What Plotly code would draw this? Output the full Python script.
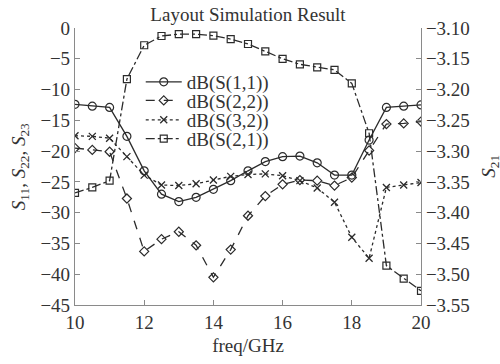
import plotly.graph_objects as go

freq = [10, 10.5, 11, 11.5, 12, 12.5, 13, 13.5, 14, 14.5, 15, 15.5, 16, 16.5, 17, 17.5, 18, 18.5, 19, 19.5, 20]

s11 = [-12.4, -12.7, -12.9, -17.6, -23.2, -27.0, -28.2, -27.5, -26.2, -24.8, -23.2,
       -21.7, -20.9, -20.8, -21.9, -23.9, -23.9, -18.2, -12.9, -12.7, -12.5]
s22 = [-19.5, -19.8, -20.1, -27.7, -36.3, -34.3, -33.1, -35.3, -40.5, -36.0, -30.5,
       -27.3, -25.4, -24.7, -24.8, -25.6, -24.3, -19.9, -15.6, -15.5, -15.2]
s32 = [-17.5, -17.6, -17.9, -20.9, -23.9, -25.5, -25.6, -25.3, -24.7, -24.1, -23.8,
       -23.7, -24.0, -24.8, -26.0, -28.3, -34.0, -37.4, -25.9, -25.5, -25.1]
s21 = [-3.368, -3.359, -3.348, -3.183, -3.128, -3.113, -3.110, -3.110, -3.1125, -3.118, -3.126,
       -3.138, -3.150, -3.159, -3.164, -3.168, -3.190, -3.271, -3.486, -3.507, -3.527]

names = ["dB(S(1,1))", "dB(S(2,2))", "dB(S(3,2))", "dB(S(2,1))"]

LINE = "#2b2b2b"
AX = "#8a8a8a"
TXT = "#333333"
FONT = "Liberation Serif"
FS = 19

fig = go.Figure()
fig.add_trace(go.Scatter(x=freq, y=s11, name=names[0], mode="lines+markers",
                         line=dict(color=LINE, width=1.3, dash="solid"),
                         marker=dict(symbol="circle-open", size=8, color=LINE, line=dict(width=1.2)),
                         legend="legend"))
fig.add_trace(go.Scatter(x=freq, y=s22, name=names[1], mode="lines+markers",
                         line=dict(color=LINE, width=1.3, dash="dash"),
                         marker=dict(symbol="diamond-open", size=7, color=LINE, line=dict(width=1.2)),
                         legend="legend2"))
fig.add_trace(go.Scatter(x=freq, y=s32, name=names[2], mode="lines+markers",
                         line=dict(color=LINE, width=1.3, dash="dot"),
                         marker=dict(symbol="x-thin-open", size=7, color=LINE, line=dict(width=1.3)),
                         legend="legend3"))
fig.add_trace(go.Scatter(x=freq, y=s21, name=names[3], mode="lines+markers", yaxis="y2",
                         line=dict(color=LINE, width=1.3, dash="dashdot"),
                         marker=dict(symbol="square-open", size=7, color=LINE, line=dict(width=1.2)),
                         legend="legend4"))

tickfont = dict(family=FONT, size=FS, color=TXT)
legfont = dict(family=FONT, size=FS, color=TXT)
leg_common = dict(x=0.19, xanchor="left", yanchor="middle", font=legfont,
                  bgcolor="rgba(0,0,0,0)", borderwidth=0, itemwidth=36)

fig.update_layout(
    width=500, height=364,
    margin=dict(l=75, r=79, t=28, b=59),
    paper_bgcolor="white", plot_bgcolor="white",
    showlegend=True,
    title=dict(text="Layout Simulation Result", x=0.496, xanchor="center",
               y=0.96, yanchor="middle", font=dict(family=FONT, size=FS, color=TXT)),
    xaxis=dict(range=[10, 20], dtick=2, tick0=10, ticks="inside", ticklen=5,
               tickcolor=AX, showline=True, linecolor=AX, linewidth=1.2,
               showgrid=False, zeroline=False, tickfont=tickfont,
               title=dict(text="freq/GHz", font=dict(family=FONT, size=FS, color=TXT), standoff=6)),
    yaxis=dict(range=[-45, 0], dtick=5, tick0=0, ticks="inside", ticklen=5,
               tickcolor=AX, showline=True, linecolor=AX, linewidth=1.2,
               showgrid=False, zeroline=False, tickfont=tickfont),
    yaxis2=dict(range=[-3.55, -3.10], dtick=0.05, tick0=-3.10, tickformat=".2f",
                overlaying="y", side="right", ticks="inside", ticklen=5,
                tickcolor=AX, showline=True, linecolor=AX, linewidth=1.2,
                showgrid=False, zeroline=False, tickfont=tickfont),
    legend=dict(y=0.805, **leg_common),
    legend2=dict(y=0.738, **leg_common),
    legend3=dict(y=0.668, **leg_common),
    legend4=dict(y=0.600, **leg_common),
    annotations=[
        dict(text="<i>S</i><sub>11</sub>, <i>S</i><sub>22</sub>, <i>S</i><sub>23</sub>",
             xref="paper", yref="paper", x=-0.16, y=0.5, xanchor="center", yanchor="middle",
             textangle=-90, showarrow=False, font=dict(family=FONT, size=FS, color=TXT)),
        dict(text="<i>S</i><sub>21</sub>",
             xref="paper", yref="paper", x=1.197, y=0.5, xanchor="center", yanchor="middle",
             textangle=-90, showarrow=False, font=dict(family=FONT, size=FS, color=TXT)),
    ],
)

fig.write_html("out.html",
               config={"displayModeBar": False},
               post_script="document.body.style.margin='0px';document.body.style.overflow='hidden';")
